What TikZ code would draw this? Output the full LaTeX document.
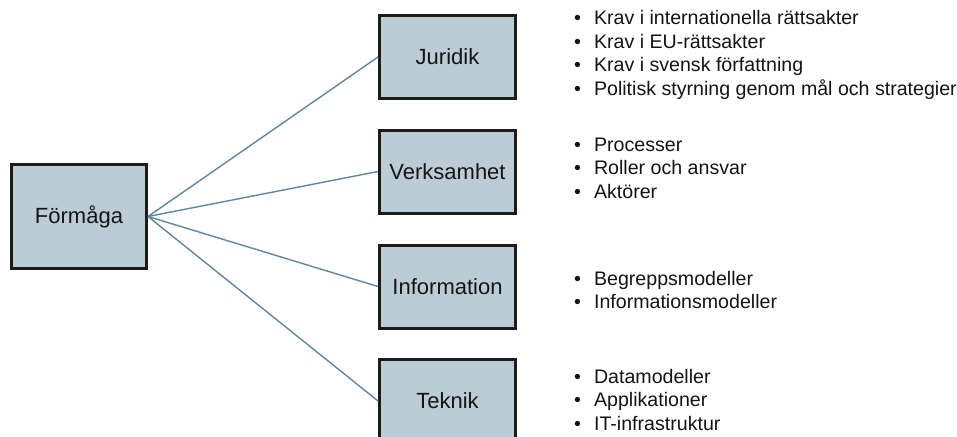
\documentclass[tikz,border=0pt]{standalone}
\usepackage{fontspec}
\setmainfont{Liberation Sans}
\usetikzlibrary{positioning}
\definecolor{boxfill}{RGB}{188,204,214}
\definecolor{boxline}{RGB}{30,28,24}
\definecolor{linkblue}{RGB}{96,134,160}
\definecolor{textdark}{RGB}{20,20,20}
\newcommand{\punkter}[1]{%
  \begin{tabular}{@{}l@{\hspace{13pt}}l@{}}#1\end{tabular}}
\tikzset{
  aspekt/.style={draw=boxline,line width=3pt,fill=boxfill,
    minimum width=136pt,minimum height=83pt,inner sep=0pt,
    text=textdark,font=\fontsize{22}{26}\selectfont},
  lista/.style={anchor=west,inner sep=0pt,text=textdark,
    font=\fontsize{19.6}{23.5}\selectfont},
  koppling/.style={draw=linkblue,line width=1.4pt}
}
\begin{document}
\begin{tikzpicture}[x=1pt,y=-1pt]
  \useasboundingbox (0,0) rectangle (957,436);
  % rutor
  \node[aspekt,minimum width=135pt,minimum height=104pt] (formaga) at (79,216.5) {Förmåga};
  \node[aspekt] (juridik) at (447.5,57) {Juridik};
  \node[aspekt] (verksamhet) at (447.5,171.5) {Verksamhet};
  \node[aspekt] (information) at (447.5,286.5) {Information};
  \node[aspekt] (teknik) at (447.5,401) {Teknik};
  % kopplingar
  \foreach \n in {juridik,verksamhet,information,teknik}
    \draw[koppling] (formaga.east) -- (\n.west);
  % listor
  \node[lista] (juridiklista) at (574,55.5) {\punkter{%
    •&Krav i internationella rättsakter\\
    •&Krav i EU-rättsakter\\
    •&Krav i svensk författning\\
    •&Politisk styrning genom mål och strategier}};
  \node[lista] (verksamhetlista) at (574,170) {\punkter{%
    •&Processer\\
    •&Roller och ansvar\\
    •&Aktörer}};
  \node[lista] (informationlista) at (574,292.5) {\punkter{%
    •&Begreppsmodeller\\
    •&Informationsmodeller}};
  \node[lista] (tekniklista) at (574,402) {\punkter{%
    •&Datamodeller\\
    •&Applikationer\\
    •&IT-infrastruktur}};
\end{tikzpicture}
\end{document}
